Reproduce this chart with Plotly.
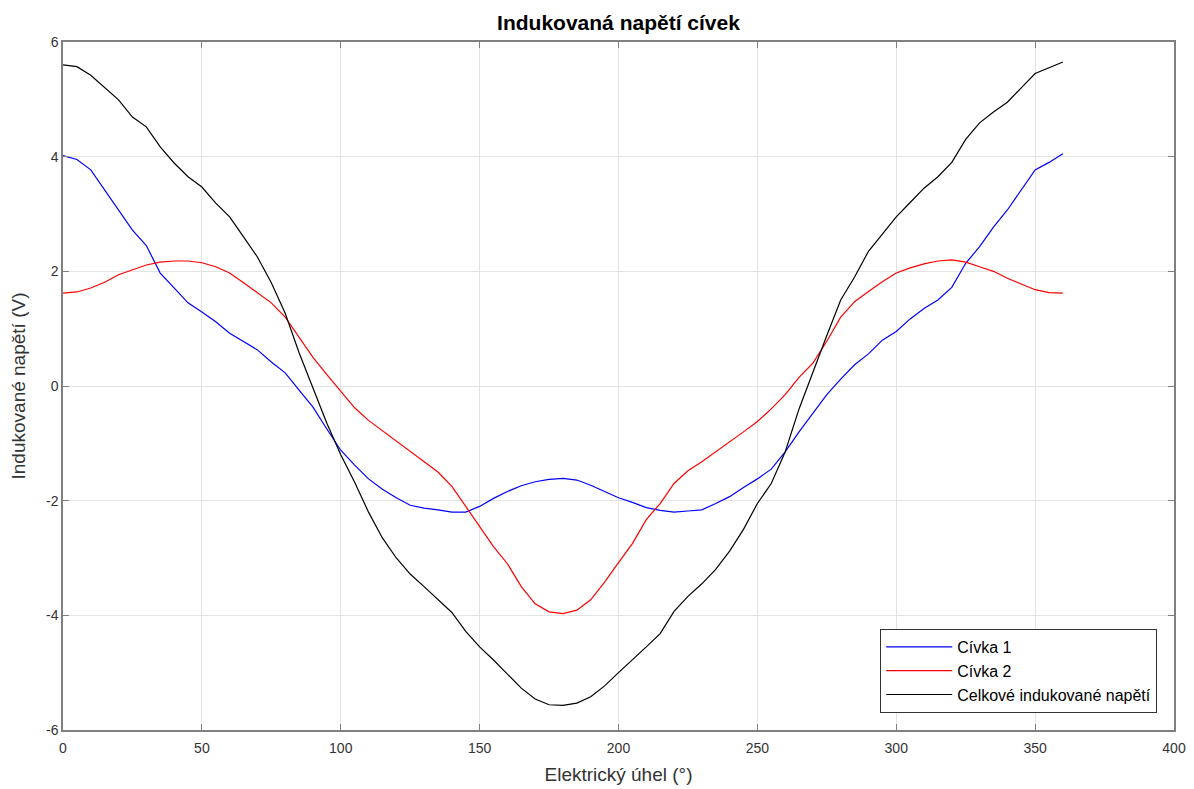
import plotly.graph_objects as go

angle = list(range(0, 361, 5))

civka1 = [4.02, 3.95, 3.77, 3.42, 3.07, 2.72, 2.45, 1.97, 1.71, 1.45,
          1.29, 1.12, 0.92, 0.77, 0.63, 0.42, 0.23, -0.07, -0.37, -0.75,
          -1.12, -1.38, -1.62, -1.80, -1.95, -2.08, -2.13, -2.16, -2.20, -2.20,
          -2.10, -1.96, -1.84, -1.74, -1.67, -1.63, -1.61, -1.64, -1.73, -1.84,
          -1.95, -2.03, -2.12, -2.17, -2.20, -2.18, -2.16, -2.05, -1.93, -1.77,
          -1.62, -1.45, -1.15, -0.80, -0.47, -0.15, 0.12, 0.37, 0.56, 0.80,
          0.95, 1.17, 1.35, 1.50, 1.72, 2.14, 2.43, 2.77, 3.07, 3.42,
          3.77, 3.90, 4.05]

civka2 = [1.62, 1.64, 1.71, 1.81, 1.94, 2.02, 2.11, 2.16, 2.18, 2.18,
          2.15, 2.08, 1.97, 1.80, 1.62, 1.45, 1.20, 0.85, 0.50, 0.20,
          -0.10, -0.38, -0.60, -0.78, -0.97, -1.15, -1.33, -1.50, -1.75, -2.10,
          -2.45, -2.80, -3.10, -3.50, -3.80, -3.94, -3.97, -3.91, -3.73, -3.42,
          -3.08, -2.75, -2.33, -2.05, -1.70, -1.48, -1.32, -1.15, -0.97, -0.80,
          -0.62, -0.40, -0.15, 0.15, 0.40, 0.78, 1.20, 1.47, 1.65, 1.82,
          1.97, 2.06, 2.13, 2.18, 2.20, 2.16, 2.08, 2.00, 1.88, 1.78,
          1.68, 1.63, 1.62]

celkove = [5.60, 5.57, 5.42, 5.20, 4.99, 4.69, 4.52, 4.17, 3.89, 3.65,
           3.47, 3.19, 2.95, 2.60, 2.25, 1.80, 1.27, 0.58, -0.02, -0.65,
           -1.20, -1.68, -2.20, -2.65, -3.00, -3.28, -3.50, -3.72, -3.95, -4.28,
           -4.55, -4.78, -5.03, -5.27, -5.46, -5.56, -5.57, -5.53, -5.42, -5.23,
           -5.00, -4.78, -4.55, -4.32, -3.93, -3.67, -3.45, -3.20, -2.88, -2.50,
           -2.05, -1.70, -1.15, -0.40, 0.25, 0.88, 1.50, 1.90, 2.35, 2.65,
           2.95, 3.20, 3.45, 3.65, 3.90, 4.30, 4.59, 4.78, 4.95, 5.20,
           5.45, 5.55, 5.65]

x_ticks = [0, 50, 100, 150, 200, 250, 300, 350, 400]
y_ticks = [-6, -4, -2, 0, 2, 4, 6]

FONT = "Liberation Sans, Arial, sans-serif"

fig = go.Figure()
fig.add_trace(go.Scatter(x=angle, y=civka1, mode="lines", name="Cívka 1",
                         line=dict(color="#0000ff", width=1.2)))
fig.add_trace(go.Scatter(x=angle, y=civka2, mode="lines", name="Cívka 2",
                         line=dict(color="#ff0000", width=1.2)))
fig.add_trace(go.Scatter(x=angle, y=celkove, mode="lines", name="Celkové indukované napětí",
                         line=dict(color="#000000", width=1.2)))

axis_common = dict(
    showline=True, linecolor="#808080", linewidth=1.5, mirror="ticks",
    ticks="inside", ticklen=6, tickcolor="#808080", tickwidth=1,
    showgrid=True, gridcolor="#e3e3e3", gridwidth=1, zeroline=False,
    tickfont=dict(family=FONT, size=14, color="#333333"),
    automargin=False,
)

fig.update_layout(
    width=1194, height=789,
    paper_bgcolor="white", plot_bgcolor="white",
    margin=dict(l=55, r=28, t=34, b=67),
    title=dict(text="<b>Indukovaná napětí cívek</b>", x=0.5, xanchor="center",
               xref="paper", yref="container", y=0.982, yanchor="middle",
               font=dict(family=FONT, size=21, color="#000000")),
    font=dict(family=FONT, size=14, color="#333333"),
    xaxis=dict(range=[0, 400], tickvals=x_ticks,
               ticktext=[str(v) for v in x_ticks],
               ticklabelstandoff=4,
               title=dict(text="Elektrický úhel (°)", standoff=13,
                          font=dict(family=FONT, size=19, color="#333333")),
               **axis_common),
    yaxis=dict(range=[-6, 6], tickvals=y_ticks,
               ticktext=[str(v) for v in y_ticks],
               title=dict(text="Indukované napětí (V)", standoff=18,
                          font=dict(family=FONT, size=19, color="#333333")),
               **axis_common),
    legend=dict(x=0.9847, y=0.025, xanchor="right", yanchor="bottom",
                bgcolor="white", bordercolor="#333333", borderwidth=1.2,
                font=dict(family=FONT, size=16, color="#000000"),
                tracegroupgap=0, itemwidth=66),
    showlegend=True,
)

fig.write_html("out.html")
